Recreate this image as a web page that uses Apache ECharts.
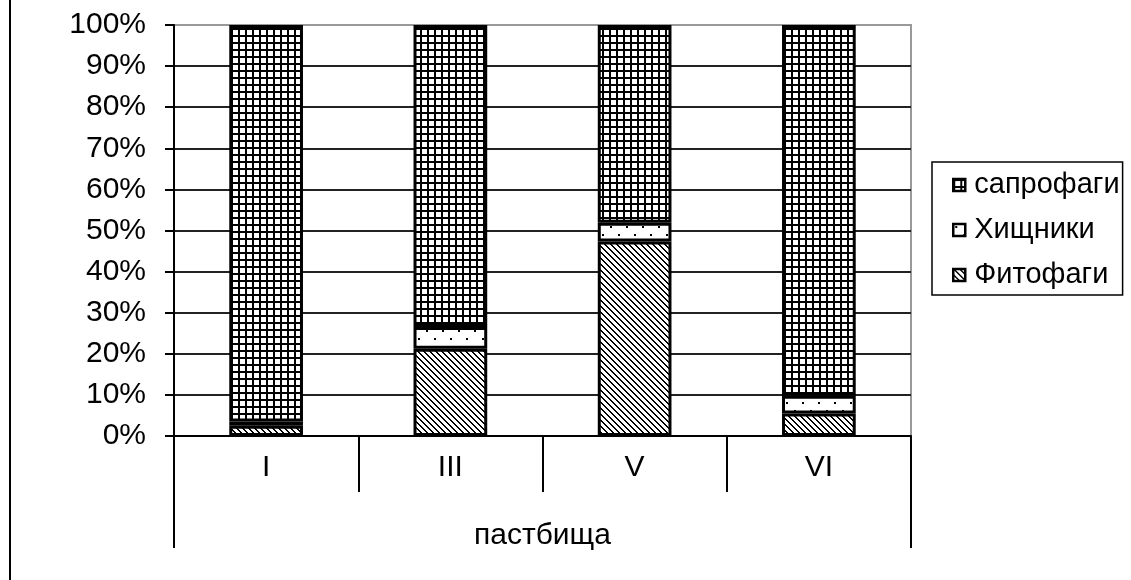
<!DOCTYPE html>
<html>
<head>
<meta charset="utf-8">
<script src="https://cdn.jsdelivr.net/npm/echarts@6/dist/echarts.min.js"></script>
<style>
  html, body { margin: 0; padding: 0; background: #fff; }
  #wrap { position: relative; width: 1131px; height: 580px; overflow: hidden; }
  #frame { position: absolute; left: 9px; top: 0; width: 2px; height: 580px; background: #000; }
  #chart { position: absolute; left: 0; top: 0; width: 1131px; height: 580px; }
</style>
</head>
<body>
<div id="wrap"><div id="frame"></div><div id="chart"></div></div>
<script>
// ---- data ----
const categories = ['I', 'III', 'V', 'VI'];
const groupLabel = ['пастбища'];
const phyto = [2.5, 21.2, 47.3, 5.5];     // Фитофаги
const predators = [1.0, 5.3, 4.6, 4.3];   // Хищники
const sapro = [96.5, 73.5, 48.1, 90.2];   // сапрофаги
const seriesNames = ['Фитофаги', 'Хищники', 'сапрофаги'];
const legendOrder = ['сапрофаги', 'Хищники', 'Фитофаги'];

// ---- patterns ----
function makeTile(w, h, draw) {
  const c = document.createElement('canvas');
  c.width = w; c.height = h;
  const ctx = c.getContext('2d');
  ctx.fillStyle = '#fff';
  ctx.fillRect(0, 0, w, h);
  ctx.fillStyle = '#000';
  draw(ctx);
  return c;
}
const gridTile = makeTile(7, 7, ctx => {
  ctx.fillRect(0, 0, 7, 2);
  ctx.fillRect(0, 0, 2, 7);
});
const dotTile = makeTile(16, 16, ctx => {
  ctx.fillRect(2, 2, 2, 2);
  ctx.fillRect(10, 10, 2, 2);
});
const diagTile = makeTile(6, 6, ctx => {
  for (let i = 0; i < 6; i++) {
    ctx.fillRect(i, i, 1, 1);
    ctx.fillRect((i + 1) % 6, i, 1, 1);
  }
});
const pat = t => ({ image: t, repeat: 'repeat' });

const FONT = 'Liberation Sans, Arial, sans-serif';
const FS = 30;
const LFS = 29;

const chart = echarts.init(document.getElementById('chart'), null, { renderer: 'canvas' });

function barSeries(name, data, tile) {
  return {
    name: name,
    type: 'bar',
    stack: 'total',
    barWidth: '40%',
    data: data,
    itemStyle: { color: pat(tile), borderColor: '#000', borderWidth: 3 },
    emphasis: { disabled: true },
    animation: false
  };
}

const splitColors = [];
for (let i = 0; i < 10; i++) splitColors.push('#222');
splitColors.push('#999');

chart.setOption({
  animation: false,
  backgroundColor: 'transparent',
  textStyle: { fontFamily: FONT, color: '#000' },
  grid: {
    left: 174, right: 220, top: 25, bottom: 144,
    show: true, borderColor: '#999', borderWidth: 2, backgroundColor: 'transparent'
  },
  legend: {
    orient: 'vertical',
    left: 932, top: 162,
    data: legendOrder,
    icon: 'rect',
    itemWidth: 12, itemHeight: 12,
    itemGap: 11,
    padding: [6, 3, 3, 20],
    borderColor: '#000', borderWidth: 1.5,
    selectedMode: false,
    itemStyle: { borderColor: '#000', borderWidth: 2.5 },
    textStyle: { fontFamily: FONT, fontSize: LFS, color: '#000', lineHeight: 34, padding: [0, 0, 0, 4] }
  },
  xAxis: [
    {
      type: 'category',
      data: categories,
      position: 'bottom',
      axisLine: { show: true, lineStyle: { color: '#000', width: 2 } },
      axisTick: { show: true, length: 56, alignWithLabel: false, lineStyle: { color: '#000', width: 2 } },
      axisLabel: { margin: 17, fontFamily: FONT, fontSize: FS, color: '#000' },
      splitLine: { show: false }
    },
    {
      type: 'category',
      data: groupLabel,
      position: 'bottom',
      axisLine: { show: false },
      axisTick: { show: true, length: 112, lineStyle: { color: '#000', width: 2 } },
      axisLabel: { margin: 85, fontFamily: FONT, fontSize: FS, color: '#000' },
      splitLine: { show: false }
    }
  ],
  yAxis: {
    type: 'value',
    min: 0, max: 100, interval: 10,
    axisLine: { show: true, lineStyle: { color: '#000', width: 2 } },
    axisTick: { show: true, length: 9, lineStyle: { color: '#000', width: 2 } },
    axisLabel: { margin: 28, fontFamily: FONT, fontSize: FS, color: '#000', formatter: '{value}%' },
    splitLine: { show: true, lineStyle: { color: splitColors, width: 2 } }
  },
  series: [
    barSeries(seriesNames[0], phyto, diagTile),
    barSeries(seriesNames[1], predators, dotTile),
    barSeries(seriesNames[2], sapro, gridTile)
  ]
});
</script>
</body>
</html>
